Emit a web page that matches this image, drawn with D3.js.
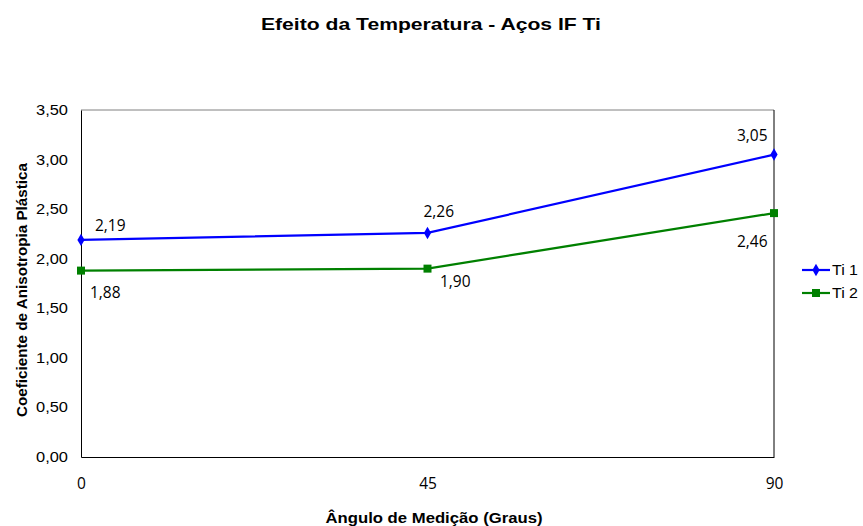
<!DOCTYPE html>
<html>
<head>
<meta charset="utf-8">
<script src="https://cdn.jsdelivr.net/npm/d3@7"></script>
<style>
  body { margin: 0; background: #fff; }
  svg { display: block; }
</style>
</head>
<body>
<svg width="863" height="526"></svg>
<script>
var angles = [0, 45, 90];
var ti1 = [2.19, 2.26, 3.05];
var ti2 = [1.88, 1.90, 2.46];
var yTicks = [0, 0.5, 1, 1.5, 2, 2.5, 3, 3.5];

var svg = d3.select("svg");
var margin = { left: 81, right: 774, top: 110, bottom: 457 };

var x = d3.scaleLinear().domain([0, 90]).range([margin.left, margin.right]);
var y = d3.scaleLinear().domain([0, 3.5]).range([margin.bottom, margin.top]);

var fmt = function (d) { return d3.format(".2f")(d).replace(".", ","); };
var arial = "'Liberation Sans', Arial, sans-serif";
var calib = "'Open Sans', sans-serif";

// title
svg.append("text")
    .attr("x", 431).attr("y", 30)
    .attr("text-anchor", "middle")
    .attr("font-family", arial).attr("font-weight", "bold").attr("font-size", 17)
    .attr("textLength", 340).attr("lengthAdjust", "spacingAndGlyphs")
    .text("Efeito da Temperatura - Aços IF Ti");

// plot frame
svg.append("line").attr("x1", margin.left).attr("x2", margin.right)
    .attr("y1", margin.top).attr("y2", margin.top)
    .attr("stroke", "#808080").attr("stroke-width", 1);
svg.append("line").attr("x1", margin.right).attr("x2", margin.right)
    .attr("y1", margin.top).attr("y2", margin.bottom)
    .attr("stroke", "#000").attr("stroke-width", 1);

// y axis
var yAxis = d3.axisLeft(y).tickValues(yTicks).tickSize(0).tickPadding(13).tickFormat(fmt);
var gy = svg.append("g").attr("transform", "translate(" + margin.left + ",0)").call(yAxis);
gy.select(".domain").attr("stroke", "#000");
gy.selectAll("text")
    .attr("font-family", arial).attr("font-size", 14).attr("fill", "#000")
    .attr("textLength", 32).attr("lengthAdjust", "spacingAndGlyphs");

// x axis
var xAxis = d3.axisBottom(x).tickValues(angles).tickSize(0).tickPadding(21).tickFormat(d3.format("d"));
var gx = svg.append("g").attr("transform", "translate(0," + margin.bottom + ")").call(xAxis);
gx.select(".domain").attr("stroke", "#000");
gx.selectAll("text").attr("font-family", calib).attr("font-size", 15.5).attr("fill", "#000");

// axis titles
svg.append("text")
    .attr("x", 434).attr("y", 523)
    .attr("text-anchor", "middle")
    .attr("font-family", arial).attr("font-weight", "bold").attr("font-size", 14)
    .attr("textLength", 217).attr("lengthAdjust", "spacingAndGlyphs")
    .text("Ângulo de Medição (Graus)");
svg.append("text")
    .attr("transform", "translate(27,290) rotate(-90)")
    .attr("text-anchor", "middle")
    .attr("font-family", arial).attr("font-weight", "bold").attr("font-size", 15)
    .attr("textLength", 254).attr("lengthAdjust", "spacingAndGlyphs")
    .text("Coeficiente de Anisotropia Plástica");

var line = d3.line()
    .x(function (d, i) { return x(angles[i]); })
    .y(function (d) { return y(d); });

var series = [
    { name: "Ti 1", values: ti1, color: "#0000ff", shape: "diamond",
      labelDx: [14, -4, -37], labelDy: [-9, -16, -14] },
    { name: "Ti 2", values: ti2, color: "#008000", shape: "square",
      labelDx: [9, 12.5, -37], labelDy: [27, 18, 34] }
];

var sym = {
    diamond: d3.symbol().type(d3.symbolDiamond).size(45),
    square: d3.symbol().type(d3.symbolSquare).size(64)
};

series.forEach(function (s) {
    svg.append("path")
        .datum(s.values)
        .attr("d", line)
        .attr("fill", "none")
        .attr("stroke", s.color)
        .attr("stroke-width", 2.2);

    svg.selectAll(".m-" + s.shape)
        .data(s.values)
        .enter().append("path")
        .attr("class", "m-" + s.shape)
        .attr("transform", function (d, i) { return "translate(" + x(angles[i]) + "," + y(d) + ")"; })
        .attr("d", sym[s.shape])
        .attr("fill", s.color);

    svg.selectAll(".lbl-" + s.shape)
        .data(s.values)
        .enter().append("text")
        .attr("class", "lbl-" + s.shape)
        .attr("x", function (d, i) { return x(angles[i]) + s.labelDx[i]; })
        .attr("y", function (d, i) { return y(d) + s.labelDy[i]; })
        .attr("font-family", calib).attr("font-size", 15.5)
        .attr("fill", "#000")
        .text(fmt);
});

// legend
var legend = svg.selectAll(".legend")
    .data(series)
    .enter().append("g")
    .attr("class", "legend")
    .attr("transform", function (d, i) { return "translate(802," + (270 + i * 23) + ")"; });
legend.append("line")
    .attr("x1", 0).attr("x2", 28)
    .attr("stroke", function (d) { return d.color; })
    .attr("stroke-width", 2.2);
legend.append("path")
    .attr("transform", "translate(14,0)")
    .attr("d", function (d) { return sym[d.shape](); })
    .attr("fill", function (d) { return d.color; });
legend.append("text")
    .attr("x", 30).attr("y", 5)
    .attr("font-family", arial).attr("font-size", 14)
    .attr("textLength", 26).attr("lengthAdjust", "spacingAndGlyphs")
    .text(function (d) { return d.name; });
</script>
</body>
</html>
